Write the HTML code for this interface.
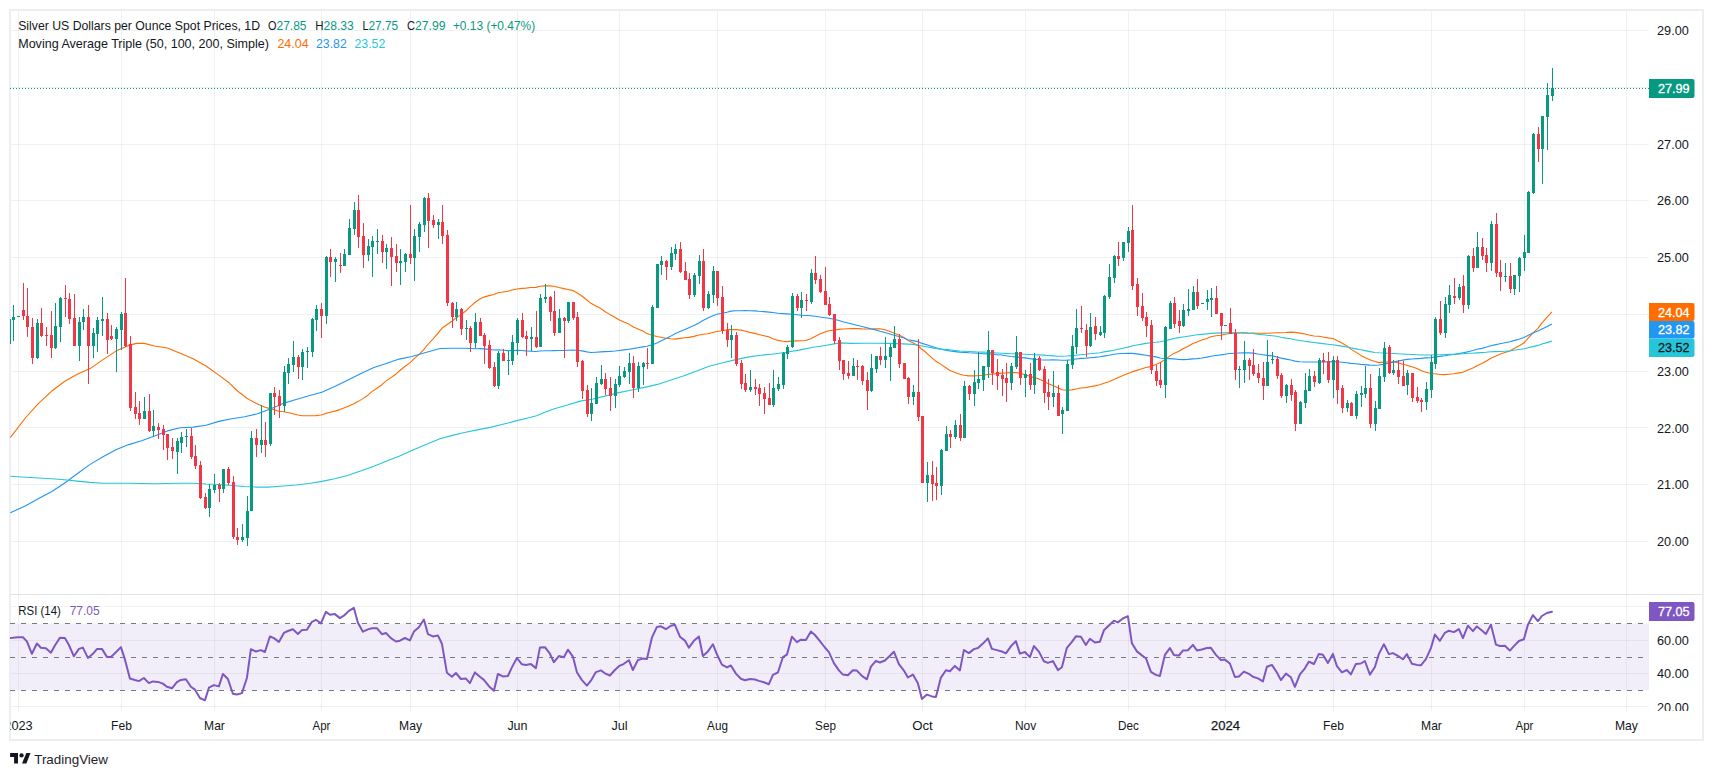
<!DOCTYPE html>
<html><head><meta charset="utf-8"><title>Silver chart</title><style>html,body{margin:0;padding:0;background:#fff}body{width:1713px;height:777px;overflow:hidden}</style></head><body>
<svg width="1713" height="777" viewBox="0 0 1713 777" style="display:block;font-family:'Liberation Sans',sans-serif">
<rect width="1713" height="777" fill="#fff"/>
<rect x="10" y="10" width="1693" height="730" fill="none" stroke="#edeef3" stroke-width="2"/>
<g shape-rendering="crispEdges">
<rect x="18" y="11" width="1" height="700" fill="#2a2e39" fill-opacity="0.065"/>
<rect x="121" y="11" width="1" height="700" fill="#2a2e39" fill-opacity="0.065"/>
<rect x="214" y="11" width="1" height="700" fill="#2a2e39" fill-opacity="0.065"/>
<rect x="321" y="11" width="1" height="700" fill="#2a2e39" fill-opacity="0.065"/>
<rect x="410" y="11" width="1" height="700" fill="#2a2e39" fill-opacity="0.065"/>
<rect x="517" y="11" width="1" height="700" fill="#2a2e39" fill-opacity="0.065"/>
<rect x="619" y="11" width="1" height="700" fill="#2a2e39" fill-opacity="0.065"/>
<rect x="717" y="11" width="1" height="700" fill="#2a2e39" fill-opacity="0.065"/>
<rect x="825" y="11" width="1" height="700" fill="#2a2e39" fill-opacity="0.065"/>
<rect x="922" y="11" width="1" height="700" fill="#2a2e39" fill-opacity="0.065"/>
<rect x="1025" y="11" width="1" height="700" fill="#2a2e39" fill-opacity="0.065"/>
<rect x="1128" y="11" width="1" height="700" fill="#2a2e39" fill-opacity="0.065"/>
<rect x="1225" y="11" width="1" height="700" fill="#2a2e39" fill-opacity="0.065"/>
<rect x="1333" y="11" width="1" height="700" fill="#2a2e39" fill-opacity="0.065"/>
<rect x="1431" y="11" width="1" height="700" fill="#2a2e39" fill-opacity="0.065"/>
<rect x="1524" y="11" width="1" height="700" fill="#2a2e39" fill-opacity="0.065"/>
<rect x="1626" y="11" width="1" height="700" fill="#2a2e39" fill-opacity="0.065"/>
<rect x="11" y="541" width="1638" height="1" fill="#2a2e39" fill-opacity="0.065"/>
<rect x="11" y="484" width="1638" height="1" fill="#2a2e39" fill-opacity="0.065"/>
<rect x="11" y="427" width="1638" height="1" fill="#2a2e39" fill-opacity="0.065"/>
<rect x="11" y="371" width="1638" height="1" fill="#2a2e39" fill-opacity="0.065"/>
<rect x="11" y="314" width="1638" height="1" fill="#2a2e39" fill-opacity="0.065"/>
<rect x="11" y="257" width="1638" height="1" fill="#2a2e39" fill-opacity="0.065"/>
<rect x="11" y="200" width="1638" height="1" fill="#2a2e39" fill-opacity="0.065"/>
<rect x="11" y="144" width="1638" height="1" fill="#2a2e39" fill-opacity="0.065"/>
<rect x="11" y="87" width="1638" height="1" fill="#2a2e39" fill-opacity="0.065"/>
<rect x="11" y="30" width="1638" height="1" fill="#2a2e39" fill-opacity="0.065"/>
<rect x="11" y="706" width="1638" height="1" fill="#2a2e39" fill-opacity="0.065"/>
<rect x="11" y="673" width="1638" height="1" fill="#2a2e39" fill-opacity="0.065"/>
<rect x="11" y="640" width="1638" height="1" fill="#2a2e39" fill-opacity="0.065"/>
<rect x="11" y="606" width="1638" height="1" fill="#2a2e39" fill-opacity="0.065"/>
<rect x="11" y="594" width="1692" height="1" fill="#e0e3eb"/>
</g>
<rect x="11" y="623.6" width="1638" height="66.7" fill="#7e57c2" fill-opacity="0.1"/>
<line x1="10" y1="623.5" x2="1646" y2="623.5" stroke="#787b86" stroke-width="1" stroke-dasharray="5 6" shape-rendering="crispEdges"/>
<line x1="10" y1="657.5" x2="1646" y2="657.5" stroke="#787b86" stroke-width="1" stroke-dasharray="5 6" shape-rendering="crispEdges"/>
<line x1="10" y1="690.5" x2="1646" y2="690.5" stroke="#787b86" stroke-width="1" stroke-dasharray="5 6" shape-rendering="crispEdges"/>
<defs><clipPath id="cm"><rect x="10" y="11" width="1639" height="583"/></clipPath><clipPath id="cr"><rect x="10" y="595" width="1639" height="116"/></clipPath><clipPath id="cr2"><rect x="1649" y="595" width="53" height="116"/></clipPath><clipPath id="ct"><rect x="10.3" y="711" width="1691" height="28"/></clipPath></defs>
<path d="M10.3,437.6 L25.7,417.5 L38.6,403.4 L51.5,391.3 L64.4,381.5 L77.2,374.3 L90.1,368.6 L103.0,359.6 L115.9,351.1 L128.7,345.4 L136.5,343.4 L144.2,343.4 L154.5,346.0 L167.4,348.0 L180.2,353.2 L193.1,358.8 L206.0,366.0 L218.8,375.1 L229.1,382.8 L236.9,390.5 L246.9,398.2 L250.9,400.6 L255.9,403.2 L260.9,405.5 L264.9,407.2 L269.9,408.6 L273.9,409.8 L278.9,411.2 L283.9,411.7 L287.9,412.5 L292.9,413.7 L297.9,415.0 L301.9,415.7 L306.9,415.8 L311.9,415.7 L315.9,415.6 L320.9,415.0 L325.9,413.4 L329.9,412.3 L334.9,411.1 L339.9,409.6 L343.9,407.9 L348.9,405.9 L353.9,403.8 L357.9,401.6 L362.9,398.6 L367.9,395.2 L371.9,391.6 L376.9,388.3 L381.9,384.7 L385.9,381.1 L390.9,377.6 L395.9,374.2 L399.9,370.5 L404.9,366.5 L409.9,362.9 L413.9,358.9 L418.9,354.6 L423.9,349.4 L427.9,344.5 L432.9,339.1 L437.9,333.4 L441.9,328.3 L446.9,324.7 L451.9,321.2 L455.9,318.0 L460.9,314.9 L465.9,310.8 L469.9,306.8 L474.9,302.5 L479.9,299.0 L483.9,297.1 L488.9,295.6 L493.9,294.5 L497.9,292.7 L502.9,292.0 L507.9,291.3 L511.9,290.0 L516.9,289.0 L521.9,288.4 L525.9,288.1 L530.9,287.5 L535.9,287.4 L539.9,286.3 L544.9,285.9 L549.9,285.9 L553.9,286.2 L558.9,287.5 L563.9,288.6 L567.9,289.5 L572.9,290.6 L576.9,292.7 L581.9,296.0 L586.9,300.0 L590.9,303.3 L595.9,305.9 L600.9,308.6 L604.9,311.5 L609.9,314.6 L614.9,317.3 L618.9,319.8 L623.9,322.1 L628.9,324.1 L632.9,326.7 L637.9,328.9 L642.9,331.0 L646.9,333.6 L651.9,335.2 L656.9,336.5 L660.9,337.3 L665.9,338.2 L670.9,338.8 L674.9,339.1 L679.9,338.4 L684.9,337.7 L688.9,337.4 L693.9,336.4 L698.9,335.0 L702.9,334.3 L707.9,333.8 L712.9,332.5 L716.9,331.5 L721.9,330.8 L726.9,329.9 L730.9,329.5 L735.9,329.6 L740.9,330.1 L744.9,331.0 L749.9,332.4 L754.9,333.4 L758.9,334.5 L763.9,335.7 L768.9,336.9 L772.9,338.7 L777.9,340.4 L782.9,341.3 L786.9,341.6 L791.9,341.1 L796.9,340.9 L800.9,340.8 L805.9,340.5 L810.9,338.7 L814.9,336.5 L819.9,334.1 L824.9,332.1 L828.9,330.7 L833.9,330.0 L838.9,329.4 L842.9,329.0 L847.9,328.8 L852.9,328.6 L856.9,328.5 L861.9,328.9 L866.9,329.0 L870.9,329.0 L875.9,328.9 L879.9,328.8 L884.9,329.8 L889.9,331.4 L893.9,333.0 L898.9,334.9 L903.9,337.4 L907.9,340.4 L912.9,342.8 L917.9,345.5 L921.9,349.3 L926.9,353.3 L931.9,357.8 L935.9,361.3 L940.9,364.4 L945.9,367.7 L949.9,370.5 L954.9,372.4 L959.9,374.3 L963.9,375.3 L968.9,375.9 L973.9,375.9 L977.9,375.7 L982.9,375.2 L987.9,374.5 L991.9,374.1 L996.9,373.6 L1001.9,373.1 L1005.9,373.0 L1010.9,372.6 L1015.9,372.6 L1019.9,373.2 L1024.9,374.8 L1029.9,376.3 L1033.9,377.5 L1038.9,378.9 L1043.9,381.2 L1047.9,383.6 L1052.9,385.6 L1057.9,387.8 L1061.9,389.7 L1066.9,390.2 L1071.9,389.9 L1075.9,389.0 L1080.9,388.0 L1085.9,387.6 L1089.9,386.8 L1094.9,385.9 L1099.9,384.7 L1103.9,383.3 L1108.9,381.7 L1113.9,379.6 L1117.9,377.7 L1122.9,375.6 L1127.9,373.4 L1131.9,371.9 L1136.9,370.4 L1141.9,368.8 L1145.9,367.5 L1150.9,366.6 L1155.9,364.5 L1159.9,362.7 L1164.9,359.6 L1169.9,355.9 L1173.9,353.4 L1178.9,351.3 L1182.9,348.7 L1187.9,346.4 L1192.9,343.5 L1196.9,341.9 L1201.9,340.1 L1206.9,338.4 L1210.9,336.8 L1215.9,335.8 L1220.9,335.3 L1224.9,334.3 L1229.9,333.5 L1234.9,333.3 L1238.9,333.0 L1243.9,332.9 L1248.9,333.2 L1252.9,333.1 L1257.9,333.2 L1262.9,333.2 L1266.9,333.2 L1271.9,333.0 L1276.9,332.7 L1280.9,332.7 L1285.9,332.5 L1290.9,332.1 L1294.9,332.4 L1299.9,333.1 L1304.9,334.0 L1308.9,335.0 L1313.9,336.0 L1318.9,336.3 L1322.9,337.0 L1327.9,337.9 L1332.9,338.5 L1336.9,340.4 L1341.9,343.0 L1346.9,345.9 L1350.9,349.1 L1355.9,352.1 L1360.9,355.4 L1364.9,357.4 L1369.9,359.7 L1374.9,361.5 L1378.9,362.6 L1383.9,362.1 L1388.9,362.0 L1392.9,361.7 L1397.9,362.7 L1402.9,364.3 L1406.9,365.3 L1411.9,366.7 L1416.9,368.5 L1420.9,370.4 L1425.9,372.3 L1430.9,373.5 L1434.9,373.8 L1439.9,374.5 L1444.9,374.6 L1448.9,374.2 L1453.9,373.7 L1458.9,372.9 L1462.9,372.3 L1467.9,370.0 L1472.9,368.0 L1476.9,365.8 L1481.9,363.6 L1485.9,361.3 L1490.9,358.3 L1495.9,356.0 L1499.9,354.3 L1504.9,352.6 L1509.9,350.9 L1513.9,348.5 L1518.9,345.9 L1523.9,343.1 L1527.9,338.4 L1532.9,333.1 L1537.9,328.3 L1541.9,323.1 L1546.9,317.3 L1551.9,311.9" fill="none" stroke="#ff6d00" stroke-width="1.1" stroke-linejoin="round" clip-path="url(#cm)"/>
<path d="M10.3,512.8 L25.7,505.8 L38.6,498.6 L51.5,491.7 L64.4,483.2 L77.2,473.7 L90.1,464.4 L103.0,456.7 L115.9,449.7 L128.7,444.6 L141.6,440.7 L154.5,436.1 L167.4,430.9 L180.2,427.8 L193.1,427.1 L206.0,425.3 L218.8,421.4 L231.7,418.8 L244.6,416.8 L257.5,413.7 L270.3,409.0 L283.2,403.4 L296.1,399.5 L309.0,395.7 L321.8,392.3 L334.7,386.6 L347.6,380.2 L360.5,373.8 L373.3,367.8 L386.2,363.5 L399.1,359.1 L411.9,356.5 L424.8,352.7 L440.0,348.5 L451.5,348.3 L464.4,348.3 L477.2,348.8 L479.9,348.6 L483.9,348.9 L488.9,349.4 L493.9,350.0 L497.9,349.9 L502.9,350.3 L507.9,350.6 L511.9,350.6 L516.9,350.3 L521.9,350.5 L525.9,350.9 L530.9,351.2 L535.9,351.5 L539.9,351.0 L544.9,350.8 L549.9,350.7 L553.9,350.6 L558.9,350.5 L563.9,350.5 L567.9,350.3 L572.9,350.1 L576.9,350.3 L581.9,350.9 L586.9,351.9 L590.9,352.5 L595.9,352.2 L600.9,351.9 L604.9,351.6 L609.9,351.4 L614.9,351.0 L618.9,350.5 L623.9,349.9 L628.9,349.2 L632.9,348.6 L637.9,347.7 L642.9,346.9 L646.9,346.2 L651.9,344.9 L656.9,343.0 L660.9,340.9 L665.9,338.6 L670.9,336.1 L674.9,333.7 L679.9,331.5 L684.9,329.5 L688.9,327.7 L693.9,325.6 L698.9,322.9 L702.9,320.6 L707.9,318.1 L712.9,315.7 L716.9,314.3 L721.9,313.2 L726.9,312.2 L730.9,311.1 L735.9,310.8 L740.9,310.7 L744.9,310.5 L749.9,310.7 L754.9,310.9 L758.9,311.3 L763.9,311.6 L768.9,312.1 L772.9,312.5 L777.9,313.2 L782.9,313.6 L786.9,313.9 L791.9,314.3 L796.9,314.8 L800.9,315.2 L805.9,315.5 L810.9,315.7 L814.9,316.2 L819.9,317.0 L824.9,317.7 L828.9,318.3 L833.9,319.3 L838.9,320.5 L842.9,321.8 L847.9,323.0 L852.9,324.2 L856.9,325.3 L861.9,326.5 L866.9,327.8 L870.9,328.9 L875.9,329.9 L879.9,331.2 L884.9,332.5 L889.9,334.0 L893.9,335.2 L898.9,336.5 L903.9,338.1 L907.9,339.7 L912.9,340.6 L917.9,341.6 L921.9,343.4 L926.9,344.8 L931.9,346.4 L935.9,347.8 L940.9,349.1 L945.9,350.1 L949.9,351.0 L954.9,351.6 L959.9,352.1 L963.9,352.4 L968.9,352.8 L973.9,353.0 L977.9,353.3 L982.9,353.8 L987.9,353.9 L991.9,354.3 L996.9,354.7 L1001.9,355.0 L1005.9,355.8 L1010.9,356.5 L1015.9,356.9 L1019.9,357.4 L1024.9,357.9 L1029.9,358.6 L1033.9,359.2 L1038.9,359.7 L1043.9,360.0 L1047.9,360.0 L1052.9,359.8 L1057.9,360.0 L1061.9,360.2 L1066.9,360.1 L1071.9,359.7 L1075.9,359.0 L1080.9,358.4 L1085.9,358.1 L1089.9,357.7 L1094.9,357.4 L1099.9,356.8 L1103.9,356.1 L1108.9,355.3 L1113.9,354.2 L1117.9,353.7 L1122.9,353.5 L1127.9,353.2 L1131.9,353.4 L1136.9,353.9 L1141.9,354.6 L1145.9,355.2 L1150.9,356.1 L1155.9,356.9 L1159.9,358.0 L1164.9,358.7 L1169.9,358.6 L1173.9,358.9 L1178.9,359.5 L1182.9,359.6 L1187.9,359.4 L1192.9,358.9 L1196.9,358.6 L1201.9,358.0 L1206.9,357.1 L1210.9,356.2 L1215.9,355.5 L1220.9,354.9 L1224.9,354.2 L1229.9,353.5 L1234.9,353.2 L1238.9,353.0 L1243.9,352.7 L1248.9,352.9 L1252.9,353.1 L1257.9,354.0 L1262.9,354.7 L1266.9,355.4 L1271.9,355.9 L1276.9,357.0 L1280.9,358.1 L1285.9,359.1 L1290.9,360.0 L1294.9,361.1 L1299.9,361.7 L1304.9,362.0 L1308.9,362.0 L1313.9,362.0 L1318.9,362.0 L1322.9,361.9 L1327.9,361.9 L1332.9,361.6 L1336.9,361.8 L1341.9,362.3 L1346.9,362.8 L1350.9,363.4 L1355.9,363.8 L1360.9,364.4 L1364.9,364.6 L1369.9,365.1 L1374.9,365.2 L1378.9,365.0 L1383.9,364.3 L1388.9,363.2 L1392.9,362.2 L1397.9,361.1 L1402.9,360.1 L1406.9,359.4 L1411.9,359.0 L1416.9,358.6 L1420.9,358.4 L1425.9,357.9 L1430.9,357.7 L1434.9,356.9 L1439.9,356.4 L1444.9,355.7 L1448.9,355.0 L1453.9,354.5 L1458.9,353.6 L1462.9,352.9 L1467.9,351.7 L1472.9,350.5 L1476.9,349.3 L1481.9,348.4 L1485.9,347.2 L1490.9,345.7 L1495.9,344.6 L1499.9,343.8 L1504.9,342.8 L1509.9,341.8 L1513.9,340.6 L1518.9,339.2 L1523.9,337.6 L1527.9,335.4 L1532.9,333.1 L1537.9,331.1 L1541.9,329.0 L1546.9,326.7 L1551.9,324.1" fill="none" stroke="#2196f3" stroke-width="1.1" stroke-linejoin="round" clip-path="url(#cm)"/>
<path d="M10.3,476.2 L25.7,477.3 L38.6,478.0 L51.5,478.8 L64.4,479.8 L77.2,481.1 L90.1,482.4 L103.0,483.2 L115.9,483.2 L128.7,483.2 L141.6,483.5 L154.5,483.7 L167.4,483.5 L180.2,483.2 L193.1,483.2 L206.0,484.0 L218.8,484.5 L231.7,485.5 L244.6,486.5 L257.5,487.1 L267.8,487.1 L283.2,486.0 L296.1,485.0 L309.0,483.5 L321.8,481.4 L334.7,478.8 L347.6,475.5 L360.5,471.1 L373.3,466.5 L386.2,461.3 L399.1,456.2 L411.9,450.5 L424.8,445.1 L440.0,438.7 L451.5,435.6 L464.4,432.5 L477.2,429.9 L490.1,427.4 L503.0,424.3 L515.9,420.9 L528.7,417.8 L536.5,415.8 L544.2,412.4 L554.5,408.8 L567.4,405.0 L580.2,401.1 L593.1,399.0 L606.0,395.9 L618.8,392.6 L631.7,390.0 L644.6,387.4 L657.5,384.4 L670.3,380.2 L683.2,375.9 L696.1,371.2 L709.0,366.3 L721.8,363.0 L734.7,359.9 L747.6,357.1 L760.5,355.3 L773.3,354.0 L786.2,352.2 L799.1,350.1 L811.9,347.5 L824.8,345.5 L840.0,342.9 L851.5,343.4 L864.4,343.2 L877.2,343.2 L890.1,343.4 L903.0,343.9 L913.3,344.4 L923.6,346.3 L933.9,348.1 L944.2,349.6 L945.9,349.3 L949.9,349.9 L954.9,350.5 L959.9,351.0 L963.9,351.2 L968.9,351.5 L973.9,351.8 L977.9,352.0 L982.9,352.1 L987.9,352.2 L991.9,352.6 L996.9,353.0 L1001.9,353.3 L1005.9,353.4 L1010.9,353.7 L1015.9,353.8 L1019.9,354.0 L1024.9,354.2 L1029.9,354.5 L1033.9,354.7 L1038.9,354.9 L1043.9,355.1 L1047.9,355.5 L1052.9,355.9 L1057.9,356.2 L1061.9,356.2 L1066.9,356.0 L1071.9,355.6 L1075.9,355.2 L1080.9,354.7 L1085.9,354.3 L1089.9,353.8 L1094.9,353.3 L1099.9,352.7 L1103.9,351.9 L1108.9,351.1 L1113.9,350.2 L1117.9,349.3 L1122.9,348.2 L1127.9,347.1 L1131.9,346.0 L1136.9,345.0 L1141.9,344.1 L1145.9,343.4 L1150.9,342.8 L1155.9,342.3 L1159.9,341.8 L1164.9,340.8 L1169.9,339.6 L1173.9,338.5 L1178.9,337.6 L1182.9,337.0 L1187.9,336.3 L1192.9,335.5 L1196.9,334.8 L1201.9,334.4 L1206.9,333.9 L1210.9,333.4 L1215.9,333.1 L1220.9,332.9 L1224.9,332.7 L1229.9,332.6 L1234.9,332.7 L1238.9,332.7 L1243.9,332.9 L1248.9,333.2 L1252.9,333.5 L1257.9,334.1 L1262.9,334.7 L1266.9,335.3 L1271.9,335.7 L1276.9,336.3 L1280.9,337.2 L1285.9,338.1 L1290.9,338.8 L1294.9,339.7 L1299.9,340.5 L1304.9,341.2 L1308.9,341.9 L1313.9,342.5 L1318.9,343.1 L1322.9,343.6 L1327.9,344.2 L1332.9,344.7 L1336.9,345.4 L1341.9,346.1 L1346.9,347.0 L1350.9,347.9 L1355.9,348.9 L1360.9,349.8 L1364.9,350.6 L1369.9,351.6 L1374.9,352.5 L1378.9,352.8 L1383.9,353.0 L1388.9,353.3 L1392.9,353.5 L1397.9,353.8 L1402.9,354.0 L1406.9,354.2 L1411.9,354.5 L1416.9,354.8 L1420.9,355.0 L1425.9,355.0 L1430.9,355.0 L1434.9,354.8 L1439.9,354.7 L1444.9,354.5 L1448.9,354.4 L1453.9,354.2 L1458.9,353.9 L1462.9,353.8 L1467.9,353.3 L1472.9,353.2 L1476.9,352.9 L1481.9,352.6 L1485.9,352.3 L1490.9,351.8 L1495.9,351.6 L1499.9,351.5 L1504.9,351.3 L1509.9,350.9 L1513.9,350.3 L1518.9,349.5 L1523.9,348.8 L1527.9,347.8 L1532.9,346.6 L1537.9,345.4 L1541.9,344.0 L1546.9,342.6 L1551.9,341.1" fill="none" stroke="#26c6da" stroke-width="1.1" stroke-linejoin="round" clip-path="url(#cm)"/>
<g shape-rendering="crispEdges" clip-path="url(#cm)">
<rect x="10" y="319" width="1" height="25" fill="#089981"/>
<rect x="13" y="305" width="1" height="36" fill="#089981"/>
<rect x="12" y="317" width="3" height="3" fill="#089981"/>
<rect x="18" y="316" width="1" height="1" fill="#089981"/>
<rect x="17" y="316" width="3" height="1" fill="#089981"/>
<rect x="23" y="283" width="1" height="37" fill="#f23645"/>
<rect x="22" y="310" width="3" height="6" fill="#f23645"/>
<rect x="27" y="288" width="1" height="49" fill="#f23645"/>
<rect x="26" y="316" width="3" height="11" fill="#f23645"/>
<rect x="32" y="318" width="1" height="46" fill="#f23645"/>
<rect x="31" y="327" width="3" height="31" fill="#f23645"/>
<rect x="37" y="319" width="1" height="40" fill="#089981"/>
<rect x="36" y="323" width="3" height="35" fill="#089981"/>
<rect x="41" y="308" width="1" height="29" fill="#f23645"/>
<rect x="40" y="323" width="3" height="13" fill="#f23645"/>
<rect x="46" y="327" width="1" height="19" fill="#f23645"/>
<rect x="45" y="335" width="3" height="1" fill="#f23645"/>
<rect x="51" y="311" width="1" height="47" fill="#f23645"/>
<rect x="50" y="335" width="3" height="13" fill="#f23645"/>
<rect x="55" y="303" width="1" height="46" fill="#089981"/>
<rect x="54" y="326" width="3" height="22" fill="#089981"/>
<rect x="60" y="297" width="1" height="45" fill="#089981"/>
<rect x="59" y="298" width="3" height="29" fill="#089981"/>
<rect x="65" y="285" width="1" height="32" fill="#f23645"/>
<rect x="64" y="298" width="3" height="1" fill="#f23645"/>
<rect x="69" y="293" width="1" height="31" fill="#f23645"/>
<rect x="68" y="299" width="3" height="20" fill="#f23645"/>
<rect x="74" y="294" width="1" height="52" fill="#f23645"/>
<rect x="73" y="318" width="3" height="28" fill="#f23645"/>
<rect x="79" y="317" width="1" height="44" fill="#089981"/>
<rect x="78" y="322" width="3" height="24" fill="#089981"/>
<rect x="83" y="309" width="1" height="21" fill="#089981"/>
<rect x="82" y="317" width="3" height="5" fill="#089981"/>
<rect x="88" y="305" width="1" height="79" fill="#f23645"/>
<rect x="87" y="317" width="3" height="29" fill="#f23645"/>
<rect x="93" y="328" width="1" height="30" fill="#089981"/>
<rect x="92" y="333" width="3" height="13" fill="#089981"/>
<rect x="97" y="317" width="1" height="35" fill="#089981"/>
<rect x="96" y="320" width="3" height="14" fill="#089981"/>
<rect x="102" y="297" width="1" height="39" fill="#089981"/>
<rect x="101" y="319" width="3" height="2" fill="#089981"/>
<rect x="107" y="313" width="1" height="41" fill="#f23645"/>
<rect x="106" y="319" width="3" height="21" fill="#f23645"/>
<rect x="111" y="325" width="1" height="15" fill="#f23645"/>
<rect x="110" y="336" width="3" height="3" fill="#f23645"/>
<rect x="116" y="327" width="1" height="45" fill="#089981"/>
<rect x="115" y="329" width="3" height="10" fill="#089981"/>
<rect x="121" y="312" width="1" height="38" fill="#089981"/>
<rect x="120" y="314" width="3" height="16" fill="#089981"/>
<rect x="125" y="278" width="1" height="69" fill="#f23645"/>
<rect x="124" y="313" width="3" height="33" fill="#f23645"/>
<rect x="130" y="336" width="1" height="75" fill="#f23645"/>
<rect x="129" y="344" width="3" height="64" fill="#f23645"/>
<rect x="135" y="392" width="1" height="27" fill="#f23645"/>
<rect x="134" y="407" width="3" height="7" fill="#f23645"/>
<rect x="139" y="401" width="1" height="24" fill="#f23645"/>
<rect x="138" y="413" width="3" height="6" fill="#f23645"/>
<rect x="144" y="397" width="1" height="22" fill="#089981"/>
<rect x="143" y="411" width="3" height="8" fill="#089981"/>
<rect x="149" y="394" width="1" height="38" fill="#f23645"/>
<rect x="148" y="411" width="3" height="20" fill="#f23645"/>
<rect x="153" y="410" width="1" height="27" fill="#089981"/>
<rect x="152" y="426" width="3" height="5" fill="#089981"/>
<rect x="158" y="423" width="1" height="16" fill="#f23645"/>
<rect x="157" y="427" width="3" height="3" fill="#f23645"/>
<rect x="163" y="425" width="1" height="25" fill="#f23645"/>
<rect x="162" y="429" width="3" height="6" fill="#f23645"/>
<rect x="167" y="434" width="1" height="26" fill="#f23645"/>
<rect x="166" y="434" width="3" height="14" fill="#f23645"/>
<rect x="172" y="438" width="1" height="21" fill="#f23645"/>
<rect x="171" y="447" width="3" height="4" fill="#f23645"/>
<rect x="177" y="438" width="1" height="36" fill="#089981"/>
<rect x="176" y="441" width="3" height="11" fill="#089981"/>
<rect x="181" y="432" width="1" height="21" fill="#089981"/>
<rect x="180" y="437" width="3" height="6" fill="#089981"/>
<rect x="186" y="429" width="1" height="18" fill="#089981"/>
<rect x="185" y="436" width="3" height="1" fill="#089981"/>
<rect x="191" y="428" width="1" height="31" fill="#f23645"/>
<rect x="190" y="436" width="3" height="21" fill="#f23645"/>
<rect x="195" y="445" width="1" height="24" fill="#f23645"/>
<rect x="194" y="456" width="3" height="10" fill="#f23645"/>
<rect x="200" y="461" width="1" height="38" fill="#f23645"/>
<rect x="199" y="465" width="3" height="33" fill="#f23645"/>
<rect x="205" y="493" width="1" height="16" fill="#f23645"/>
<rect x="204" y="497" width="3" height="11" fill="#f23645"/>
<rect x="209" y="484" width="1" height="33" fill="#089981"/>
<rect x="208" y="489" width="3" height="19" fill="#089981"/>
<rect x="214" y="474" width="1" height="19" fill="#089981"/>
<rect x="213" y="485" width="3" height="5" fill="#089981"/>
<rect x="219" y="483" width="1" height="19" fill="#f23645"/>
<rect x="218" y="485" width="3" height="4" fill="#f23645"/>
<rect x="223" y="469" width="1" height="24" fill="#089981"/>
<rect x="222" y="469" width="3" height="20" fill="#089981"/>
<rect x="228" y="467" width="1" height="18" fill="#f23645"/>
<rect x="227" y="469" width="3" height="14" fill="#f23645"/>
<rect x="233" y="476" width="1" height="63" fill="#f23645"/>
<rect x="232" y="482" width="3" height="55" fill="#f23645"/>
<rect x="237" y="528" width="1" height="17" fill="#f23645"/>
<rect x="236" y="537" width="3" height="3" fill="#f23645"/>
<rect x="242" y="524" width="1" height="18" fill="#089981"/>
<rect x="241" y="537" width="3" height="3" fill="#089981"/>
<rect x="247" y="496" width="1" height="50" fill="#089981"/>
<rect x="246" y="511" width="3" height="27" fill="#089981"/>
<rect x="251" y="431" width="1" height="80" fill="#089981"/>
<rect x="250" y="438" width="3" height="73" fill="#089981"/>
<rect x="256" y="429" width="1" height="28" fill="#f23645"/>
<rect x="255" y="438" width="3" height="7" fill="#f23645"/>
<rect x="261" y="405" width="1" height="48" fill="#089981"/>
<rect x="260" y="440" width="3" height="5" fill="#089981"/>
<rect x="265" y="422" width="1" height="35" fill="#f23645"/>
<rect x="264" y="440" width="3" height="5" fill="#f23645"/>
<rect x="270" y="393" width="1" height="53" fill="#089981"/>
<rect x="269" y="393" width="3" height="51" fill="#089981"/>
<rect x="274" y="387" width="1" height="28" fill="#f23645"/>
<rect x="273" y="393" width="3" height="4" fill="#f23645"/>
<rect x="279" y="390" width="1" height="28" fill="#f23645"/>
<rect x="278" y="396" width="3" height="10" fill="#f23645"/>
<rect x="284" y="366" width="1" height="46" fill="#089981"/>
<rect x="283" y="372" width="3" height="34" fill="#089981"/>
<rect x="288" y="358" width="1" height="26" fill="#089981"/>
<rect x="287" y="364" width="3" height="9" fill="#089981"/>
<rect x="293" y="341" width="1" height="31" fill="#089981"/>
<rect x="292" y="357" width="3" height="8" fill="#089981"/>
<rect x="298" y="355" width="1" height="24" fill="#f23645"/>
<rect x="297" y="357" width="3" height="10" fill="#f23645"/>
<rect x="302" y="349" width="1" height="31" fill="#089981"/>
<rect x="301" y="352" width="3" height="15" fill="#089981"/>
<rect x="307" y="347" width="1" height="21" fill="#089981"/>
<rect x="306" y="351" width="3" height="1" fill="#089981"/>
<rect x="312" y="318" width="1" height="39" fill="#089981"/>
<rect x="311" y="319" width="3" height="33" fill="#089981"/>
<rect x="316" y="305" width="1" height="26" fill="#089981"/>
<rect x="315" y="309" width="3" height="11" fill="#089981"/>
<rect x="321" y="303" width="1" height="35" fill="#f23645"/>
<rect x="320" y="309" width="3" height="7" fill="#f23645"/>
<rect x="326" y="256" width="1" height="68" fill="#089981"/>
<rect x="325" y="257" width="3" height="59" fill="#089981"/>
<rect x="330" y="249" width="1" height="28" fill="#f23645"/>
<rect x="329" y="257" width="3" height="5" fill="#f23645"/>
<rect x="335" y="257" width="1" height="25" fill="#089981"/>
<rect x="334" y="259" width="3" height="3" fill="#089981"/>
<rect x="340" y="253" width="1" height="20" fill="#f23645"/>
<rect x="339" y="265" width="3" height="1" fill="#f23645"/>
<rect x="344" y="249" width="1" height="17" fill="#089981"/>
<rect x="343" y="254" width="3" height="12" fill="#089981"/>
<rect x="349" y="219" width="1" height="36" fill="#089981"/>
<rect x="348" y="228" width="3" height="27" fill="#089981"/>
<rect x="354" y="202" width="1" height="33" fill="#089981"/>
<rect x="353" y="210" width="3" height="19" fill="#089981"/>
<rect x="358" y="195" width="1" height="53" fill="#f23645"/>
<rect x="357" y="210" width="3" height="27" fill="#f23645"/>
<rect x="363" y="223" width="1" height="45" fill="#f23645"/>
<rect x="362" y="236" width="3" height="19" fill="#f23645"/>
<rect x="368" y="239" width="1" height="22" fill="#089981"/>
<rect x="367" y="246" width="3" height="9" fill="#089981"/>
<rect x="372" y="236" width="1" height="41" fill="#089981"/>
<rect x="371" y="241" width="3" height="6" fill="#089981"/>
<rect x="377" y="229" width="1" height="25" fill="#089981"/>
<rect x="376" y="241" width="3" height="1" fill="#089981"/>
<rect x="382" y="235" width="1" height="28" fill="#f23645"/>
<rect x="381" y="241" width="3" height="11" fill="#f23645"/>
<rect x="386" y="244" width="1" height="25" fill="#089981"/>
<rect x="385" y="248" width="3" height="4" fill="#089981"/>
<rect x="391" y="237" width="1" height="49" fill="#f23645"/>
<rect x="390" y="248" width="3" height="9" fill="#f23645"/>
<rect x="396" y="244" width="1" height="28" fill="#f23645"/>
<rect x="395" y="256" width="3" height="7" fill="#f23645"/>
<rect x="400" y="249" width="1" height="36" fill="#089981"/>
<rect x="399" y="261" width="3" height="2" fill="#089981"/>
<rect x="405" y="253" width="1" height="19" fill="#089981"/>
<rect x="404" y="254" width="3" height="8" fill="#089981"/>
<rect x="410" y="205" width="1" height="59" fill="#f23645"/>
<rect x="409" y="254" width="3" height="4" fill="#f23645"/>
<rect x="414" y="229" width="1" height="52" fill="#089981"/>
<rect x="413" y="236" width="3" height="22" fill="#089981"/>
<rect x="419" y="222" width="1" height="30" fill="#089981"/>
<rect x="418" y="224" width="3" height="13" fill="#089981"/>
<rect x="424" y="197" width="1" height="35" fill="#089981"/>
<rect x="423" y="198" width="3" height="27" fill="#089981"/>
<rect x="428" y="193" width="1" height="55" fill="#f23645"/>
<rect x="427" y="198" width="3" height="23" fill="#f23645"/>
<rect x="433" y="215" width="1" height="13" fill="#f23645"/>
<rect x="432" y="220" width="3" height="5" fill="#f23645"/>
<rect x="438" y="219" width="1" height="20" fill="#089981"/>
<rect x="437" y="222" width="3" height="3" fill="#089981"/>
<rect x="442" y="205" width="1" height="39" fill="#f23645"/>
<rect x="441" y="222" width="3" height="14" fill="#f23645"/>
<rect x="447" y="230" width="1" height="76" fill="#f23645"/>
<rect x="446" y="235" width="3" height="68" fill="#f23645"/>
<rect x="452" y="302" width="1" height="26" fill="#f23645"/>
<rect x="451" y="303" width="3" height="14" fill="#f23645"/>
<rect x="456" y="302" width="1" height="19" fill="#089981"/>
<rect x="455" y="309" width="3" height="8" fill="#089981"/>
<rect x="461" y="308" width="1" height="27" fill="#f23645"/>
<rect x="460" y="309" width="3" height="20" fill="#f23645"/>
<rect x="466" y="320" width="1" height="20" fill="#089981"/>
<rect x="465" y="328" width="3" height="1" fill="#089981"/>
<rect x="470" y="326" width="1" height="26" fill="#f23645"/>
<rect x="469" y="328" width="3" height="15" fill="#f23645"/>
<rect x="475" y="313" width="1" height="35" fill="#089981"/>
<rect x="474" y="322" width="3" height="21" fill="#089981"/>
<rect x="480" y="318" width="1" height="18" fill="#f23645"/>
<rect x="479" y="322" width="3" height="14" fill="#f23645"/>
<rect x="484" y="333" width="1" height="31" fill="#f23645"/>
<rect x="483" y="335" width="3" height="11" fill="#f23645"/>
<rect x="489" y="340" width="1" height="29" fill="#f23645"/>
<rect x="488" y="345" width="3" height="23" fill="#f23645"/>
<rect x="494" y="362" width="1" height="25" fill="#f23645"/>
<rect x="493" y="367" width="3" height="19" fill="#f23645"/>
<rect x="498" y="351" width="1" height="38" fill="#089981"/>
<rect x="497" y="353" width="3" height="33" fill="#089981"/>
<rect x="503" y="349" width="1" height="12" fill="#f23645"/>
<rect x="502" y="353" width="3" height="8" fill="#f23645"/>
<rect x="508" y="351" width="1" height="24" fill="#089981"/>
<rect x="507" y="360" width="3" height="1" fill="#089981"/>
<rect x="512" y="335" width="1" height="30" fill="#089981"/>
<rect x="511" y="342" width="3" height="19" fill="#089981"/>
<rect x="517" y="318" width="1" height="37" fill="#089981"/>
<rect x="516" y="320" width="3" height="23" fill="#089981"/>
<rect x="522" y="313" width="1" height="25" fill="#f23645"/>
<rect x="521" y="320" width="3" height="17" fill="#f23645"/>
<rect x="526" y="331" width="1" height="25" fill="#f23645"/>
<rect x="525" y="336" width="3" height="3" fill="#f23645"/>
<rect x="531" y="327" width="1" height="24" fill="#089981"/>
<rect x="530" y="337" width="3" height="2" fill="#089981"/>
<rect x="536" y="311" width="1" height="37" fill="#f23645"/>
<rect x="535" y="337" width="3" height="10" fill="#f23645"/>
<rect x="540" y="294" width="1" height="53" fill="#089981"/>
<rect x="539" y="298" width="3" height="49" fill="#089981"/>
<rect x="545" y="284" width="1" height="19" fill="#089981"/>
<rect x="544" y="297" width="3" height="2" fill="#089981"/>
<rect x="550" y="296" width="1" height="25" fill="#f23645"/>
<rect x="549" y="297" width="3" height="15" fill="#f23645"/>
<rect x="554" y="291" width="1" height="45" fill="#f23645"/>
<rect x="553" y="311" width="3" height="22" fill="#f23645"/>
<rect x="559" y="309" width="1" height="24" fill="#089981"/>
<rect x="558" y="318" width="3" height="15" fill="#089981"/>
<rect x="564" y="317" width="1" height="41" fill="#f23645"/>
<rect x="563" y="318" width="3" height="3" fill="#f23645"/>
<rect x="568" y="302" width="1" height="21" fill="#089981"/>
<rect x="567" y="302" width="3" height="19" fill="#089981"/>
<rect x="573" y="302" width="1" height="18" fill="#f23645"/>
<rect x="572" y="302" width="3" height="16" fill="#f23645"/>
<rect x="577" y="312" width="1" height="55" fill="#f23645"/>
<rect x="576" y="317" width="3" height="45" fill="#f23645"/>
<rect x="582" y="360" width="1" height="39" fill="#f23645"/>
<rect x="581" y="361" width="3" height="30" fill="#f23645"/>
<rect x="587" y="385" width="1" height="32" fill="#f23645"/>
<rect x="586" y="390" width="3" height="24" fill="#f23645"/>
<rect x="591" y="388" width="1" height="33" fill="#089981"/>
<rect x="590" y="403" width="3" height="11" fill="#089981"/>
<rect x="596" y="377" width="1" height="27" fill="#089981"/>
<rect x="595" y="383" width="3" height="21" fill="#089981"/>
<rect x="601" y="365" width="1" height="20" fill="#089981"/>
<rect x="600" y="379" width="3" height="5" fill="#089981"/>
<rect x="605" y="373" width="1" height="22" fill="#f23645"/>
<rect x="604" y="379" width="3" height="10" fill="#f23645"/>
<rect x="610" y="377" width="1" height="34" fill="#f23645"/>
<rect x="609" y="388" width="3" height="8" fill="#f23645"/>
<rect x="615" y="379" width="1" height="29" fill="#089981"/>
<rect x="614" y="384" width="3" height="12" fill="#089981"/>
<rect x="619" y="366" width="1" height="21" fill="#089981"/>
<rect x="618" y="376" width="3" height="9" fill="#089981"/>
<rect x="624" y="367" width="1" height="11" fill="#089981"/>
<rect x="623" y="371" width="3" height="6" fill="#089981"/>
<rect x="629" y="353" width="1" height="31" fill="#089981"/>
<rect x="628" y="363" width="3" height="9" fill="#089981"/>
<rect x="633" y="356" width="1" height="42" fill="#f23645"/>
<rect x="632" y="363" width="3" height="25" fill="#f23645"/>
<rect x="638" y="362" width="1" height="30" fill="#089981"/>
<rect x="637" y="366" width="3" height="22" fill="#089981"/>
<rect x="643" y="362" width="1" height="23" fill="#089981"/>
<rect x="642" y="363" width="3" height="4" fill="#089981"/>
<rect x="647" y="348" width="1" height="21" fill="#f23645"/>
<rect x="646" y="363" width="3" height="1" fill="#f23645"/>
<rect x="652" y="305" width="1" height="59" fill="#089981"/>
<rect x="651" y="307" width="3" height="57" fill="#089981"/>
<rect x="657" y="264" width="1" height="44" fill="#089981"/>
<rect x="656" y="264" width="3" height="44" fill="#089981"/>
<rect x="661" y="256" width="1" height="19" fill="#089981"/>
<rect x="660" y="261" width="3" height="4" fill="#089981"/>
<rect x="666" y="260" width="1" height="20" fill="#f23645"/>
<rect x="665" y="261" width="3" height="6" fill="#f23645"/>
<rect x="671" y="247" width="1" height="23" fill="#089981"/>
<rect x="670" y="253" width="3" height="14" fill="#089981"/>
<rect x="675" y="244" width="1" height="16" fill="#089981"/>
<rect x="674" y="249" width="3" height="5" fill="#089981"/>
<rect x="680" y="242" width="1" height="31" fill="#f23645"/>
<rect x="679" y="249" width="3" height="23" fill="#f23645"/>
<rect x="685" y="262" width="1" height="18" fill="#f23645"/>
<rect x="684" y="271" width="3" height="9" fill="#f23645"/>
<rect x="689" y="273" width="1" height="26" fill="#f23645"/>
<rect x="688" y="279" width="3" height="16" fill="#f23645"/>
<rect x="694" y="273" width="1" height="24" fill="#089981"/>
<rect x="693" y="275" width="3" height="20" fill="#089981"/>
<rect x="699" y="255" width="1" height="29" fill="#089981"/>
<rect x="698" y="261" width="3" height="15" fill="#089981"/>
<rect x="703" y="249" width="1" height="62" fill="#f23645"/>
<rect x="702" y="261" width="3" height="47" fill="#f23645"/>
<rect x="708" y="291" width="1" height="18" fill="#089981"/>
<rect x="707" y="294" width="3" height="14" fill="#089981"/>
<rect x="713" y="266" width="1" height="37" fill="#089981"/>
<rect x="712" y="271" width="3" height="24" fill="#089981"/>
<rect x="717" y="271" width="1" height="35" fill="#f23645"/>
<rect x="716" y="271" width="3" height="27" fill="#f23645"/>
<rect x="722" y="286" width="1" height="48" fill="#f23645"/>
<rect x="721" y="297" width="3" height="34" fill="#f23645"/>
<rect x="727" y="323" width="1" height="24" fill="#f23645"/>
<rect x="726" y="330" width="3" height="10" fill="#f23645"/>
<rect x="731" y="325" width="1" height="33" fill="#089981"/>
<rect x="730" y="335" width="3" height="5" fill="#089981"/>
<rect x="736" y="332" width="1" height="34" fill="#f23645"/>
<rect x="735" y="335" width="3" height="29" fill="#f23645"/>
<rect x="741" y="360" width="1" height="29" fill="#f23645"/>
<rect x="740" y="363" width="3" height="21" fill="#f23645"/>
<rect x="745" y="374" width="1" height="18" fill="#f23645"/>
<rect x="744" y="383" width="3" height="7" fill="#f23645"/>
<rect x="750" y="370" width="1" height="22" fill="#089981"/>
<rect x="749" y="387" width="3" height="3" fill="#089981"/>
<rect x="755" y="379" width="1" height="16" fill="#f23645"/>
<rect x="754" y="387" width="3" height="2" fill="#f23645"/>
<rect x="759" y="384" width="1" height="22" fill="#f23645"/>
<rect x="758" y="388" width="3" height="6" fill="#f23645"/>
<rect x="764" y="387" width="1" height="27" fill="#f23645"/>
<rect x="763" y="393" width="3" height="6" fill="#f23645"/>
<rect x="769" y="383" width="1" height="22" fill="#f23645"/>
<rect x="768" y="398" width="3" height="7" fill="#f23645"/>
<rect x="773" y="370" width="1" height="37" fill="#089981"/>
<rect x="772" y="388" width="3" height="17" fill="#089981"/>
<rect x="778" y="377" width="1" height="14" fill="#089981"/>
<rect x="777" y="384" width="3" height="5" fill="#089981"/>
<rect x="783" y="352" width="1" height="37" fill="#089981"/>
<rect x="782" y="353" width="3" height="32" fill="#089981"/>
<rect x="787" y="345" width="1" height="14" fill="#089981"/>
<rect x="786" y="347" width="3" height="7" fill="#089981"/>
<rect x="792" y="293" width="1" height="55" fill="#089981"/>
<rect x="791" y="296" width="3" height="51" fill="#089981"/>
<rect x="797" y="294" width="1" height="17" fill="#f23645"/>
<rect x="796" y="296" width="3" height="12" fill="#f23645"/>
<rect x="801" y="292" width="1" height="26" fill="#089981"/>
<rect x="800" y="300" width="3" height="8" fill="#089981"/>
<rect x="806" y="294" width="1" height="17" fill="#f23645"/>
<rect x="805" y="300" width="3" height="1" fill="#f23645"/>
<rect x="811" y="269" width="1" height="35" fill="#089981"/>
<rect x="810" y="273" width="3" height="29" fill="#089981"/>
<rect x="815" y="256" width="1" height="28" fill="#f23645"/>
<rect x="814" y="273" width="3" height="7" fill="#f23645"/>
<rect x="820" y="275" width="1" height="18" fill="#f23645"/>
<rect x="819" y="279" width="3" height="13" fill="#f23645"/>
<rect x="825" y="267" width="1" height="38" fill="#f23645"/>
<rect x="824" y="291" width="3" height="14" fill="#f23645"/>
<rect x="829" y="297" width="1" height="19" fill="#f23645"/>
<rect x="828" y="304" width="3" height="11" fill="#f23645"/>
<rect x="834" y="314" width="1" height="30" fill="#f23645"/>
<rect x="833" y="314" width="3" height="27" fill="#f23645"/>
<rect x="839" y="337" width="1" height="33" fill="#f23645"/>
<rect x="838" y="340" width="3" height="21" fill="#f23645"/>
<rect x="843" y="360" width="1" height="20" fill="#f23645"/>
<rect x="842" y="360" width="3" height="14" fill="#f23645"/>
<rect x="848" y="361" width="1" height="18" fill="#f23645"/>
<rect x="847" y="373" width="3" height="3" fill="#f23645"/>
<rect x="853" y="358" width="1" height="18" fill="#089981"/>
<rect x="852" y="366" width="3" height="10" fill="#089981"/>
<rect x="857" y="360" width="1" height="20" fill="#f23645"/>
<rect x="856" y="366" width="3" height="1" fill="#f23645"/>
<rect x="862" y="365" width="1" height="20" fill="#f23645"/>
<rect x="861" y="366" width="3" height="15" fill="#f23645"/>
<rect x="867" y="372" width="1" height="38" fill="#f23645"/>
<rect x="866" y="380" width="3" height="11" fill="#f23645"/>
<rect x="871" y="354" width="1" height="38" fill="#089981"/>
<rect x="870" y="368" width="3" height="23" fill="#089981"/>
<rect x="876" y="356" width="1" height="17" fill="#089981"/>
<rect x="875" y="356" width="3" height="13" fill="#089981"/>
<rect x="880" y="347" width="1" height="18" fill="#f23645"/>
<rect x="879" y="356" width="3" height="4" fill="#f23645"/>
<rect x="885" y="337" width="1" height="31" fill="#089981"/>
<rect x="884" y="356" width="3" height="4" fill="#089981"/>
<rect x="890" y="344" width="1" height="37" fill="#089981"/>
<rect x="889" y="347" width="3" height="10" fill="#089981"/>
<rect x="894" y="326" width="1" height="22" fill="#089981"/>
<rect x="893" y="339" width="3" height="9" fill="#089981"/>
<rect x="899" y="334" width="1" height="34" fill="#f23645"/>
<rect x="898" y="339" width="3" height="25" fill="#f23645"/>
<rect x="904" y="363" width="1" height="16" fill="#f23645"/>
<rect x="903" y="363" width="3" height="16" fill="#f23645"/>
<rect x="908" y="377" width="1" height="27" fill="#f23645"/>
<rect x="907" y="378" width="3" height="19" fill="#f23645"/>
<rect x="913" y="385" width="1" height="20" fill="#089981"/>
<rect x="912" y="392" width="3" height="5" fill="#089981"/>
<rect x="918" y="339" width="1" height="82" fill="#f23645"/>
<rect x="917" y="392" width="3" height="25" fill="#f23645"/>
<rect x="922" y="416" width="1" height="67" fill="#f23645"/>
<rect x="921" y="416" width="3" height="67" fill="#f23645"/>
<rect x="927" y="462" width="1" height="40" fill="#089981"/>
<rect x="926" y="475" width="3" height="8" fill="#089981"/>
<rect x="932" y="461" width="1" height="40" fill="#f23645"/>
<rect x="931" y="475" width="3" height="9" fill="#f23645"/>
<rect x="936" y="467" width="1" height="33" fill="#f23645"/>
<rect x="935" y="483" width="3" height="3" fill="#f23645"/>
<rect x="941" y="449" width="1" height="46" fill="#089981"/>
<rect x="940" y="450" width="3" height="36" fill="#089981"/>
<rect x="946" y="426" width="1" height="25" fill="#089981"/>
<rect x="945" y="434" width="3" height="17" fill="#089981"/>
<rect x="950" y="430" width="1" height="18" fill="#f23645"/>
<rect x="949" y="434" width="3" height="3" fill="#f23645"/>
<rect x="955" y="420" width="1" height="19" fill="#089981"/>
<rect x="954" y="425" width="3" height="12" fill="#089981"/>
<rect x="960" y="414" width="1" height="27" fill="#f23645"/>
<rect x="959" y="425" width="3" height="13" fill="#f23645"/>
<rect x="964" y="381" width="1" height="57" fill="#089981"/>
<rect x="963" y="386" width="3" height="52" fill="#089981"/>
<rect x="969" y="385" width="1" height="15" fill="#f23645"/>
<rect x="968" y="386" width="3" height="8" fill="#f23645"/>
<rect x="974" y="370" width="1" height="36" fill="#089981"/>
<rect x="973" y="382" width="3" height="12" fill="#089981"/>
<rect x="978" y="352" width="1" height="37" fill="#089981"/>
<rect x="977" y="379" width="3" height="4" fill="#089981"/>
<rect x="983" y="366" width="1" height="25" fill="#089981"/>
<rect x="982" y="366" width="3" height="14" fill="#089981"/>
<rect x="988" y="331" width="1" height="47" fill="#089981"/>
<rect x="987" y="350" width="3" height="17" fill="#089981"/>
<rect x="992" y="350" width="1" height="35" fill="#f23645"/>
<rect x="991" y="350" width="3" height="23" fill="#f23645"/>
<rect x="997" y="359" width="1" height="31" fill="#f23645"/>
<rect x="996" y="372" width="3" height="4" fill="#f23645"/>
<rect x="1002" y="369" width="1" height="27" fill="#f23645"/>
<rect x="1001" y="375" width="3" height="4" fill="#f23645"/>
<rect x="1006" y="363" width="1" height="39" fill="#f23645"/>
<rect x="1005" y="378" width="3" height="5" fill="#f23645"/>
<rect x="1011" y="363" width="1" height="27" fill="#089981"/>
<rect x="1010" y="366" width="3" height="17" fill="#089981"/>
<rect x="1016" y="336" width="1" height="33" fill="#089981"/>
<rect x="1015" y="352" width="3" height="15" fill="#089981"/>
<rect x="1020" y="352" width="1" height="33" fill="#f23645"/>
<rect x="1019" y="352" width="3" height="26" fill="#f23645"/>
<rect x="1025" y="370" width="1" height="27" fill="#089981"/>
<rect x="1024" y="374" width="3" height="4" fill="#089981"/>
<rect x="1030" y="363" width="1" height="27" fill="#f23645"/>
<rect x="1029" y="374" width="3" height="11" fill="#f23645"/>
<rect x="1034" y="353" width="1" height="41" fill="#089981"/>
<rect x="1033" y="358" width="3" height="27" fill="#089981"/>
<rect x="1039" y="356" width="1" height="15" fill="#f23645"/>
<rect x="1038" y="358" width="3" height="12" fill="#f23645"/>
<rect x="1044" y="366" width="1" height="37" fill="#f23645"/>
<rect x="1043" y="369" width="3" height="24" fill="#f23645"/>
<rect x="1048" y="379" width="1" height="31" fill="#f23645"/>
<rect x="1047" y="392" width="3" height="5" fill="#f23645"/>
<rect x="1053" y="371" width="1" height="36" fill="#089981"/>
<rect x="1052" y="393" width="3" height="4" fill="#089981"/>
<rect x="1058" y="385" width="1" height="31" fill="#f23645"/>
<rect x="1057" y="393" width="3" height="23" fill="#f23645"/>
<rect x="1062" y="407" width="1" height="27" fill="#089981"/>
<rect x="1061" y="410" width="3" height="4" fill="#089981"/>
<rect x="1067" y="360" width="1" height="51" fill="#089981"/>
<rect x="1066" y="364" width="3" height="47" fill="#089981"/>
<rect x="1072" y="335" width="1" height="34" fill="#089981"/>
<rect x="1071" y="346" width="3" height="19" fill="#089981"/>
<rect x="1076" y="309" width="1" height="45" fill="#089981"/>
<rect x="1075" y="328" width="3" height="19" fill="#089981"/>
<rect x="1081" y="306" width="1" height="27" fill="#f23645"/>
<rect x="1080" y="328" width="3" height="1" fill="#f23645"/>
<rect x="1086" y="324" width="1" height="33" fill="#f23645"/>
<rect x="1085" y="330" width="3" height="16" fill="#f23645"/>
<rect x="1090" y="313" width="1" height="34" fill="#089981"/>
<rect x="1089" y="327" width="3" height="19" fill="#089981"/>
<rect x="1095" y="317" width="1" height="23" fill="#f23645"/>
<rect x="1094" y="326" width="3" height="8" fill="#f23645"/>
<rect x="1100" y="326" width="1" height="10" fill="#089981"/>
<rect x="1099" y="332" width="3" height="3" fill="#089981"/>
<rect x="1104" y="295" width="1" height="43" fill="#089981"/>
<rect x="1103" y="296" width="3" height="37" fill="#089981"/>
<rect x="1109" y="264" width="1" height="35" fill="#089981"/>
<rect x="1108" y="277" width="3" height="20" fill="#089981"/>
<rect x="1114" y="255" width="1" height="28" fill="#089981"/>
<rect x="1113" y="256" width="3" height="22" fill="#089981"/>
<rect x="1118" y="242" width="1" height="24" fill="#f23645"/>
<rect x="1117" y="256" width="3" height="3" fill="#f23645"/>
<rect x="1123" y="242" width="1" height="19" fill="#089981"/>
<rect x="1122" y="242" width="3" height="16" fill="#089981"/>
<rect x="1128" y="227" width="1" height="25" fill="#089981"/>
<rect x="1127" y="231" width="3" height="12" fill="#089981"/>
<rect x="1132" y="205" width="1" height="85" fill="#f23645"/>
<rect x="1131" y="230" width="3" height="56" fill="#f23645"/>
<rect x="1137" y="278" width="1" height="38" fill="#f23645"/>
<rect x="1136" y="284" width="3" height="23" fill="#f23645"/>
<rect x="1142" y="293" width="1" height="28" fill="#f23645"/>
<rect x="1141" y="306" width="3" height="12" fill="#f23645"/>
<rect x="1146" y="312" width="1" height="25" fill="#f23645"/>
<rect x="1145" y="317" width="3" height="9" fill="#f23645"/>
<rect x="1151" y="320" width="1" height="54" fill="#f23645"/>
<rect x="1150" y="325" width="3" height="45" fill="#f23645"/>
<rect x="1156" y="365" width="1" height="21" fill="#f23645"/>
<rect x="1155" y="371" width="3" height="10" fill="#f23645"/>
<rect x="1160" y="362" width="1" height="26" fill="#f23645"/>
<rect x="1159" y="380" width="3" height="5" fill="#f23645"/>
<rect x="1165" y="326" width="1" height="72" fill="#089981"/>
<rect x="1164" y="327" width="3" height="58" fill="#089981"/>
<rect x="1170" y="301" width="1" height="28" fill="#089981"/>
<rect x="1169" y="303" width="3" height="26" fill="#089981"/>
<rect x="1174" y="297" width="1" height="31" fill="#f23645"/>
<rect x="1173" y="303" width="3" height="21" fill="#f23645"/>
<rect x="1179" y="310" width="1" height="23" fill="#f23645"/>
<rect x="1178" y="321" width="3" height="5" fill="#f23645"/>
<rect x="1183" y="304" width="1" height="23" fill="#089981"/>
<rect x="1182" y="310" width="3" height="16" fill="#089981"/>
<rect x="1188" y="289" width="1" height="27" fill="#089981"/>
<rect x="1187" y="309" width="3" height="2" fill="#089981"/>
<rect x="1193" y="286" width="1" height="24" fill="#089981"/>
<rect x="1192" y="292" width="3" height="18" fill="#089981"/>
<rect x="1197" y="279" width="1" height="30" fill="#f23645"/>
<rect x="1196" y="292" width="3" height="14" fill="#f23645"/>
<rect x="1202" y="303" width="1" height="1" fill="#089981"/>
<rect x="1201" y="303" width="3" height="1" fill="#089981"/>
<rect x="1207" y="290" width="1" height="20" fill="#089981"/>
<rect x="1206" y="299" width="3" height="3" fill="#089981"/>
<rect x="1211" y="288" width="1" height="29" fill="#089981"/>
<rect x="1210" y="298" width="3" height="2" fill="#089981"/>
<rect x="1216" y="286" width="1" height="28" fill="#f23645"/>
<rect x="1215" y="298" width="3" height="16" fill="#f23645"/>
<rect x="1221" y="313" width="1" height="27" fill="#f23645"/>
<rect x="1220" y="313" width="3" height="13" fill="#f23645"/>
<rect x="1225" y="325" width="1" height="1" fill="#089981"/>
<rect x="1224" y="325" width="3" height="1" fill="#089981"/>
<rect x="1230" y="308" width="1" height="26" fill="#f23645"/>
<rect x="1229" y="323" width="3" height="11" fill="#f23645"/>
<rect x="1235" y="329" width="1" height="51" fill="#f23645"/>
<rect x="1234" y="333" width="3" height="37" fill="#f23645"/>
<rect x="1239" y="366" width="1" height="22" fill="#089981"/>
<rect x="1238" y="369" width="3" height="1" fill="#089981"/>
<rect x="1244" y="341" width="1" height="42" fill="#089981"/>
<rect x="1243" y="360" width="3" height="10" fill="#089981"/>
<rect x="1249" y="358" width="1" height="22" fill="#f23645"/>
<rect x="1248" y="360" width="3" height="6" fill="#f23645"/>
<rect x="1253" y="349" width="1" height="27" fill="#f23645"/>
<rect x="1252" y="365" width="3" height="9" fill="#f23645"/>
<rect x="1258" y="364" width="1" height="19" fill="#f23645"/>
<rect x="1257" y="373" width="3" height="5" fill="#f23645"/>
<rect x="1263" y="362" width="1" height="38" fill="#f23645"/>
<rect x="1262" y="378" width="3" height="8" fill="#f23645"/>
<rect x="1267" y="340" width="1" height="46" fill="#089981"/>
<rect x="1266" y="362" width="3" height="24" fill="#089981"/>
<rect x="1272" y="352" width="1" height="12" fill="#089981"/>
<rect x="1271" y="359" width="3" height="1" fill="#089981"/>
<rect x="1277" y="356" width="1" height="23" fill="#f23645"/>
<rect x="1276" y="359" width="3" height="17" fill="#f23645"/>
<rect x="1281" y="373" width="1" height="25" fill="#f23645"/>
<rect x="1280" y="375" width="3" height="21" fill="#f23645"/>
<rect x="1286" y="384" width="1" height="19" fill="#089981"/>
<rect x="1285" y="385" width="3" height="11" fill="#089981"/>
<rect x="1291" y="379" width="1" height="22" fill="#f23645"/>
<rect x="1290" y="385" width="3" height="10" fill="#f23645"/>
<rect x="1295" y="390" width="1" height="41" fill="#f23645"/>
<rect x="1294" y="392" width="3" height="32" fill="#f23645"/>
<rect x="1300" y="401" width="1" height="23" fill="#089981"/>
<rect x="1299" y="402" width="3" height="22" fill="#089981"/>
<rect x="1305" y="373" width="1" height="35" fill="#089981"/>
<rect x="1304" y="390" width="3" height="13" fill="#089981"/>
<rect x="1309" y="369" width="1" height="22" fill="#089981"/>
<rect x="1308" y="376" width="3" height="15" fill="#089981"/>
<rect x="1314" y="371" width="1" height="16" fill="#f23645"/>
<rect x="1313" y="376" width="3" height="6" fill="#f23645"/>
<rect x="1319" y="358" width="1" height="26" fill="#089981"/>
<rect x="1318" y="360" width="3" height="23" fill="#089981"/>
<rect x="1323" y="353" width="1" height="21" fill="#f23645"/>
<rect x="1322" y="360" width="3" height="2" fill="#f23645"/>
<rect x="1328" y="352" width="1" height="31" fill="#f23645"/>
<rect x="1327" y="361" width="3" height="19" fill="#f23645"/>
<rect x="1333" y="356" width="1" height="42" fill="#089981"/>
<rect x="1332" y="360" width="3" height="20" fill="#089981"/>
<rect x="1337" y="356" width="1" height="48" fill="#f23645"/>
<rect x="1336" y="360" width="3" height="30" fill="#f23645"/>
<rect x="1342" y="385" width="1" height="28" fill="#f23645"/>
<rect x="1341" y="388" width="3" height="20" fill="#f23645"/>
<rect x="1347" y="400" width="1" height="12" fill="#089981"/>
<rect x="1346" y="403" width="3" height="5" fill="#089981"/>
<rect x="1351" y="402" width="1" height="14" fill="#f23645"/>
<rect x="1350" y="403" width="3" height="13" fill="#f23645"/>
<rect x="1356" y="391" width="1" height="28" fill="#089981"/>
<rect x="1355" y="394" width="3" height="22" fill="#089981"/>
<rect x="1361" y="386" width="1" height="21" fill="#089981"/>
<rect x="1360" y="393" width="3" height="2" fill="#089981"/>
<rect x="1365" y="366" width="1" height="32" fill="#089981"/>
<rect x="1364" y="388" width="3" height="6" fill="#089981"/>
<rect x="1370" y="374" width="1" height="54" fill="#f23645"/>
<rect x="1369" y="388" width="3" height="36" fill="#f23645"/>
<rect x="1375" y="401" width="1" height="30" fill="#089981"/>
<rect x="1374" y="408" width="3" height="16" fill="#089981"/>
<rect x="1379" y="368" width="1" height="41" fill="#089981"/>
<rect x="1378" y="376" width="3" height="33" fill="#089981"/>
<rect x="1384" y="342" width="1" height="40" fill="#089981"/>
<rect x="1383" y="348" width="3" height="29" fill="#089981"/>
<rect x="1389" y="345" width="1" height="29" fill="#f23645"/>
<rect x="1388" y="347" width="3" height="26" fill="#f23645"/>
<rect x="1393" y="360" width="1" height="15" fill="#089981"/>
<rect x="1392" y="370" width="3" height="3" fill="#089981"/>
<rect x="1398" y="360" width="1" height="24" fill="#f23645"/>
<rect x="1397" y="370" width="3" height="7" fill="#f23645"/>
<rect x="1403" y="361" width="1" height="25" fill="#f23645"/>
<rect x="1402" y="376" width="3" height="10" fill="#f23645"/>
<rect x="1407" y="370" width="1" height="25" fill="#089981"/>
<rect x="1406" y="373" width="3" height="12" fill="#089981"/>
<rect x="1412" y="373" width="1" height="29" fill="#f23645"/>
<rect x="1411" y="373" width="3" height="25" fill="#f23645"/>
<rect x="1417" y="387" width="1" height="16" fill="#f23645"/>
<rect x="1416" y="397" width="3" height="4" fill="#f23645"/>
<rect x="1421" y="398" width="1" height="14" fill="#f23645"/>
<rect x="1420" y="400" width="3" height="2" fill="#f23645"/>
<rect x="1426" y="382" width="1" height="28" fill="#089981"/>
<rect x="1425" y="389" width="3" height="13" fill="#089981"/>
<rect x="1431" y="355" width="1" height="43" fill="#089981"/>
<rect x="1430" y="362" width="3" height="28" fill="#089981"/>
<rect x="1435" y="317" width="1" height="52" fill="#089981"/>
<rect x="1434" y="319" width="3" height="45" fill="#089981"/>
<rect x="1440" y="301" width="1" height="34" fill="#f23645"/>
<rect x="1439" y="319" width="3" height="14" fill="#f23645"/>
<rect x="1445" y="297" width="1" height="41" fill="#089981"/>
<rect x="1444" y="304" width="3" height="29" fill="#089981"/>
<rect x="1449" y="285" width="1" height="28" fill="#089981"/>
<rect x="1448" y="295" width="3" height="10" fill="#089981"/>
<rect x="1454" y="278" width="1" height="26" fill="#f23645"/>
<rect x="1453" y="296" width="3" height="2" fill="#f23645"/>
<rect x="1459" y="284" width="1" height="16" fill="#089981"/>
<rect x="1458" y="287" width="3" height="11" fill="#089981"/>
<rect x="1463" y="275" width="1" height="38" fill="#f23645"/>
<rect x="1462" y="286" width="3" height="19" fill="#f23645"/>
<rect x="1468" y="255" width="1" height="54" fill="#089981"/>
<rect x="1467" y="256" width="3" height="49" fill="#089981"/>
<rect x="1473" y="248" width="1" height="24" fill="#f23645"/>
<rect x="1472" y="256" width="3" height="12" fill="#f23645"/>
<rect x="1477" y="232" width="1" height="36" fill="#089981"/>
<rect x="1476" y="247" width="3" height="21" fill="#089981"/>
<rect x="1482" y="238" width="1" height="22" fill="#f23645"/>
<rect x="1481" y="247" width="3" height="9" fill="#f23645"/>
<rect x="1486" y="248" width="1" height="24" fill="#f23645"/>
<rect x="1485" y="255" width="3" height="8" fill="#f23645"/>
<rect x="1491" y="221" width="1" height="50" fill="#089981"/>
<rect x="1490" y="224" width="3" height="39" fill="#089981"/>
<rect x="1496" y="213" width="1" height="64" fill="#f23645"/>
<rect x="1495" y="224" width="3" height="49" fill="#f23645"/>
<rect x="1500" y="260" width="1" height="31" fill="#f23645"/>
<rect x="1499" y="272" width="3" height="5" fill="#f23645"/>
<rect x="1505" y="263" width="1" height="19" fill="#089981"/>
<rect x="1504" y="276" width="3" height="1" fill="#089981"/>
<rect x="1510" y="263" width="1" height="30" fill="#f23645"/>
<rect x="1509" y="276" width="3" height="13" fill="#f23645"/>
<rect x="1514" y="275" width="1" height="20" fill="#089981"/>
<rect x="1513" y="275" width="3" height="14" fill="#089981"/>
<rect x="1519" y="257" width="1" height="35" fill="#089981"/>
<rect x="1518" y="258" width="3" height="18" fill="#089981"/>
<rect x="1524" y="235" width="1" height="36" fill="#089981"/>
<rect x="1523" y="252" width="3" height="6" fill="#089981"/>
<rect x="1528" y="191" width="1" height="62" fill="#089981"/>
<rect x="1527" y="192" width="3" height="61" fill="#089981"/>
<rect x="1533" y="133" width="1" height="61" fill="#089981"/>
<rect x="1532" y="134" width="3" height="59" fill="#089981"/>
<rect x="1538" y="127" width="1" height="35" fill="#f23645"/>
<rect x="1537" y="134" width="3" height="15" fill="#f23645"/>
<rect x="1542" y="116" width="1" height="68" fill="#089981"/>
<rect x="1541" y="116" width="3" height="33" fill="#089981"/>
<rect x="1547" y="83" width="1" height="67" fill="#089981"/>
<rect x="1546" y="95" width="3" height="22" fill="#089981"/>
<rect x="1552" y="68" width="1" height="33" fill="#089981"/>
<rect x="1551" y="88" width="3" height="8" fill="#089981"/>
</g>
<line x1="10" y1="88.5" x2="1649" y2="88.5" stroke="#089981" stroke-width="1" stroke-dasharray="1 2" shape-rendering="crispEdges"/>
<path d="M9.9,638.0 L12.9,637.8 L17.9,637.3 L22.9,637.3 L26.9,641.4 L31.9,653.8 L36.9,643.5 L40.9,647.8 L45.9,648.3 L50.9,652.7 L54.9,645.5 L59.9,637.8 L64.9,638.0 L68.9,645.0 L73.9,656.3 L78.9,648.9 L82.9,647.6 L87.9,657.9 L92.9,653.8 L96.9,649.1 L101.9,648.9 L106.9,656.9 L110.9,656.9 L115.9,652.2 L120.9,647.1 L124.9,659.4 L129.9,678.5 L134.9,680.0 L138.9,681.1 L143.9,678.0 L148.9,683.1 L152.9,681.4 L157.9,681.9 L162.9,683.6 L166.9,686.7 L171.9,688.3 L176.9,682.2 L180.9,679.9 L185.9,679.2 L190.9,686.7 L194.9,689.6 L199.9,698.0 L204.9,700.4 L208.9,687.7 L213.9,685.1 L218.9,686.4 L222.9,674.0 L227.9,679.0 L232.9,693.8 L236.9,694.5 L241.9,693.1 L246.9,678.0 L250.9,649.2 L255.9,651.5 L260.9,650.1 L264.9,652.0 L269.9,636.5 L273.9,638.1 L278.9,641.9 L283.9,632.9 L287.9,631.0 L292.9,629.3 L297.9,634.0 L301.9,630.1 L306.9,629.8 L311.9,621.9 L315.9,619.8 L320.9,623.4 L325.9,611.9 L329.9,614.7 L334.9,614.1 L339.9,618.1 L343.9,615.7 L348.9,610.9 L353.9,607.9 L357.9,622.8 L362.9,631.7 L367.9,629.4 L371.9,628.2 L376.9,628.2 L381.9,634.2 L385.9,633.0 L390.9,638.1 L395.9,641.5 L399.9,640.7 L404.9,638.0 L409.9,640.4 L413.9,631.6 L418.9,627.3 L423.9,619.5 L427.9,634.1 L432.9,636.4 L437.9,635.4 L441.9,643.7 L446.9,672.7 L451.9,676.7 L455.9,673.0 L460.9,679.0 L465.9,678.6 L469.9,683.1 L474.9,672.4 L479.9,676.8 L483.9,679.9 L488.9,686.2 L493.9,690.8 L497.9,674.0 L502.9,676.4 L507.9,676.0 L511.9,667.4 L516.9,658.0 L521.9,664.3 L525.9,664.9 L530.9,664.1 L535.9,668.1 L539.9,647.6 L544.9,647.2 L549.9,653.7 L553.9,662.2 L558.9,656.1 L563.9,657.2 L567.9,649.7 L572.9,656.6 L576.9,672.2 L581.9,680.1 L586.9,685.6 L590.9,680.7 L595.9,672.1 L600.9,670.4 L604.9,673.3 L609.9,675.5 L614.9,670.0 L618.9,666.2 L623.9,663.8 L628.9,660.2 L632.9,670.0 L637.9,660.0 L642.9,658.6 L646.9,659.0 L651.9,637.7 L656.9,626.9 L660.9,626.3 L665.9,629.2 L670.9,625.7 L674.9,624.8 L679.9,636.7 L684.9,640.6 L688.9,647.7 L693.9,640.8 L698.9,636.5 L702.9,656.1 L707.9,651.4 L712.9,644.2 L716.9,654.3 L721.9,664.6 L726.9,667.4 L730.9,665.5 L735.9,673.6 L740.9,678.7 L744.9,680.2 L749.9,679.0 L754.9,679.5 L758.9,680.9 L763.9,682.3 L768.9,684.2 L772.9,674.8 L777.9,672.5 L782.9,657.2 L786.9,654.7 L791.9,636.7 L796.9,642.2 L800.9,639.7 L805.9,640.0 L810.9,631.5 L814.9,635.0 L819.9,641.2 L824.9,647.5 L828.9,652.2 L833.9,663.1 L838.9,670.4 L842.9,674.6 L847.9,675.3 L852.9,670.2 L856.9,670.6 L861.9,675.9 L866.9,679.3 L870.9,666.6 L875.9,660.8 L879.9,662.5 L884.9,660.5 L889.9,655.7 L893.9,651.7 L898.9,664.2 L903.9,670.6 L907.9,677.5 L912.9,674.6 L917.9,683.3 L921.9,698.9 L926.9,694.6 L931.9,696.4 L935.9,696.9 L940.9,677.6 L945.9,670.3 L949.9,671.3 L954.9,665.9 L959.9,670.4 L963.9,650.1 L968.9,653.1 L973.9,649.1 L977.9,648.0 L982.9,643.6 L987.9,638.4 L991.9,648.9 L996.9,650.1 L1001.9,651.5 L1005.9,653.3 L1010.9,646.3 L1015.9,641.1 L1019.9,653.6 L1024.9,652.0 L1029.9,657.1 L1033.9,646.0 L1038.9,651.6 L1043.9,661.3 L1047.9,662.9 L1052.9,661.1 L1057.9,670.1 L1061.9,667.3 L1066.9,647.8 L1071.9,641.9 L1075.9,636.3 L1080.9,636.8 L1085.9,645.0 L1089.9,638.8 L1094.9,642.5 L1099.9,641.7 L1103.9,630.3 L1108.9,625.5 L1113.9,620.7 L1117.9,622.4 L1122.9,618.5 L1127.9,616.2 L1131.9,643.3 L1136.9,651.4 L1141.9,655.4 L1145.9,658.2 L1150.9,671.9 L1155.9,674.9 L1159.9,676.0 L1164.9,654.9 L1169.9,648.1 L1173.9,654.9 L1178.9,655.5 L1182.9,650.6 L1187.9,650.3 L1192.9,644.9 L1196.9,650.4 L1201.9,649.5 L1206.9,648.0 L1210.9,647.8 L1215.9,654.9 L1220.9,660.0 L1224.9,659.6 L1229.9,663.5 L1234.9,677.0 L1238.9,676.5 L1243.9,671.6 L1248.9,673.8 L1252.9,676.8 L1257.9,678.4 L1262.9,681.4 L1266.9,666.7 L1271.9,664.9 L1276.9,672.5 L1280.9,680.1 L1285.9,673.6 L1290.9,677.3 L1294.9,686.9 L1299.9,674.4 L1304.9,668.3 L1308.9,661.6 L1313.9,664.0 L1318.9,653.9 L1322.9,654.8 L1327.9,663.0 L1332.9,653.9 L1336.9,666.1 L1341.9,672.3 L1346.9,670.0 L1350.9,674.4 L1355.9,663.9 L1360.9,663.5 L1364.9,661.0 L1369.9,674.6 L1374.9,667.0 L1378.9,653.9 L1383.9,644.3 L1388.9,654.1 L1392.9,653.1 L1397.9,655.8 L1402.9,659.3 L1406.9,654.1 L1411.9,663.7 L1416.9,664.9 L1420.9,665.3 L1425.9,659.2 L1430.9,648.1 L1434.9,634.5 L1439.9,640.8 L1444.9,632.8 L1448.9,630.7 L1453.9,632.1 L1458.9,629.1 L1462.9,638.2 L1467.9,625.7 L1472.9,631.2 L1476.9,626.4 L1481.9,630.6 L1485.9,634.0 L1490.9,624.6 L1495.9,644.6 L1499.9,646.0 L1504.9,645.7 L1509.9,650.6 L1513.9,646.1 L1518.9,641.0 L1523.9,639.2 L1527.9,624.7 L1532.9,615.1 L1537.9,621.1 L1541.9,616.0 L1546.9,613.0 L1551.9,611.8" fill="none" stroke="#7e57c2" stroke-width="2" stroke-linejoin="round" stroke-linecap="round" clip-path="url(#cr)"/>
<text x="1657" y="546.1" font-size="13" fill="#131722" text-anchor="start" textLength="31.8" lengthAdjust="spacingAndGlyphs">20.00</text>
<text x="1657" y="489.3" font-size="13" fill="#131722" text-anchor="start" textLength="31.8" lengthAdjust="spacingAndGlyphs">21.00</text>
<text x="1657" y="432.6" font-size="13" fill="#131722" text-anchor="start" textLength="31.8" lengthAdjust="spacingAndGlyphs">22.00</text>
<text x="1657" y="375.8" font-size="13" fill="#131722" text-anchor="start" textLength="31.8" lengthAdjust="spacingAndGlyphs">23.00</text>
<text x="1657" y="262.2" font-size="13" fill="#131722" text-anchor="start" textLength="31.8" lengthAdjust="spacingAndGlyphs">25.00</text>
<text x="1657" y="205.4" font-size="13" fill="#131722" text-anchor="start" textLength="31.8" lengthAdjust="spacingAndGlyphs">26.00</text>
<text x="1657" y="148.7" font-size="13" fill="#131722" text-anchor="start" textLength="31.8" lengthAdjust="spacingAndGlyphs">27.00</text>
<text x="1657" y="35.1" font-size="13" fill="#131722" text-anchor="start" textLength="31.8" lengthAdjust="spacingAndGlyphs">29.00</text>
<g clip-path="url(#cr2)">
<text x="1657" y="711.6" font-size="13" fill="#131722" text-anchor="start" textLength="31.8" lengthAdjust="spacingAndGlyphs">20.00</text>
</g>
<text x="1657" y="678.2" font-size="13" fill="#131722" text-anchor="start" textLength="31.8" lengthAdjust="spacingAndGlyphs">40.00</text>
<text x="1657" y="644.9" font-size="13" fill="#131722" text-anchor="start" textLength="31.8" lengthAdjust="spacingAndGlyphs">60.00</text>
<path d="M1649,79 h43.5 a2,2 0 0 1 2,2 v15 a2,2 0 0 1 -2,2 h-43.5 z" fill="#089981"/>
<text x="1658" y="93.1" font-size="13" fill="#fff" text-anchor="start" textLength="31.6" lengthAdjust="spacingAndGlyphs" stroke="#fff" stroke-width="0.3">27.99</text>
<path d="M1649,303 h43.5 a2,2 0 0 1 2,2 v14 a2,2 0 0 1 -2,2 h-43.5 z" fill="#ff6d00"/>
<text x="1658" y="316.6" font-size="13" fill="#fff" text-anchor="start" textLength="31.6" lengthAdjust="spacingAndGlyphs" stroke="#fff" stroke-width="0.3">24.04</text>
<path d="M1649,321 h43.5 a2,2 0 0 1 2,2 v13.5 a2,2 0 0 1 -2,2 h-43.5 z" fill="#2196f3"/>
<text x="1658" y="334.4" font-size="13" fill="#fff" text-anchor="start" textLength="31.6" lengthAdjust="spacingAndGlyphs" stroke="#fff" stroke-width="0.3">23.82</text>
<path d="M1649,338.5 h43.5 a2,2 0 0 1 2,2 v14.5 a2,2 0 0 1 -2,2 h-43.5 z" fill="#26c6da"/>
<text x="1658" y="352.4" font-size="13" fill="#131722" text-anchor="start" textLength="31.6" lengthAdjust="spacingAndGlyphs" stroke="#131722" stroke-width="0.3">23.52</text>
<path d="M1649,602 h43.5 a2,2 0 0 1 2,2 v15 a2,2 0 0 1 -2,2 h-43.5 z" fill="#7e57c2"/>
<text x="1658" y="616.1" font-size="13" fill="#fff" text-anchor="start" textLength="31.6" lengthAdjust="spacingAndGlyphs" stroke="#fff" stroke-width="0.3">77.05</text>
<g clip-path="url(#ct)">
<text x="4.3" y="729.8" font-size="13" fill="#131722" text-anchor="start" textLength="28.4" lengthAdjust="spacingAndGlyphs">2023</text>
<text x="111.1" y="729.8" font-size="13" fill="#131722" text-anchor="start" textLength="20.8" lengthAdjust="spacingAndGlyphs">Feb</text>
<text x="204.1" y="729.8" font-size="13" fill="#131722" text-anchor="start" textLength="20.8" lengthAdjust="spacingAndGlyphs">Mar</text>
<text x="312.6" y="729.8" font-size="13" fill="#131722" text-anchor="start" textLength="17.8" lengthAdjust="spacingAndGlyphs">Apr</text>
<text x="399.1" y="729.8" font-size="13" fill="#131722" text-anchor="start" textLength="22.9" lengthAdjust="spacingAndGlyphs">May</text>
<text x="507.4" y="729.8" font-size="13" fill="#131722" text-anchor="start" textLength="20.1" lengthAdjust="spacingAndGlyphs">Jun</text>
<text x="611.4" y="729.8" font-size="13" fill="#131722" text-anchor="start" textLength="16.2" lengthAdjust="spacingAndGlyphs">Jul</text>
<text x="707.1" y="729.8" font-size="13" fill="#131722" text-anchor="start" textLength="20.8" lengthAdjust="spacingAndGlyphs">Aug</text>
<text x="815.1" y="729.8" font-size="13" fill="#131722" text-anchor="start" textLength="20.8" lengthAdjust="spacingAndGlyphs">Sep</text>
<text x="912.2" y="729.8" font-size="13" fill="#131722" text-anchor="start" textLength="20.6" lengthAdjust="spacingAndGlyphs">Oct</text>
<text x="1014.9" y="729.8" font-size="13" fill="#131722" text-anchor="start" textLength="21.3" lengthAdjust="spacingAndGlyphs">Nov</text>
<text x="1118.1" y="729.8" font-size="13" fill="#131722" text-anchor="start" textLength="20.8" lengthAdjust="spacingAndGlyphs">Dec</text>
<text x="1211.0" y="729.8" font-size="13" fill="#131722" text-anchor="start" textLength="29" lengthAdjust="spacingAndGlyphs" stroke="#131722" stroke-width="0.25">2024</text>
<text x="1323.1" y="729.8" font-size="13" fill="#131722" text-anchor="start" textLength="20.8" lengthAdjust="spacingAndGlyphs">Feb</text>
<text x="1421.1" y="729.8" font-size="13" fill="#131722" text-anchor="start" textLength="20.8" lengthAdjust="spacingAndGlyphs">Mar</text>
<text x="1515.6" y="729.8" font-size="13" fill="#131722" text-anchor="start" textLength="17.8" lengthAdjust="spacingAndGlyphs">Apr</text>
<text x="1615.0" y="729.8" font-size="13" fill="#131722" text-anchor="start" textLength="22.9" lengthAdjust="spacingAndGlyphs">May</text>
</g>
<text x="18.2" y="29.8" font-size="13" fill="#131722" text-anchor="start" textLength="241.8" lengthAdjust="spacingAndGlyphs">Silver US Dollars per Ounce Spot Prices, 1D</text>
<text x="268" y="29.8" font-size="13" fill="#131722" text-anchor="start" textLength="8.5" lengthAdjust="spacingAndGlyphs">O</text>
<text x="276.5" y="29.8" font-size="13" fill="#089981" text-anchor="start" textLength="30" lengthAdjust="spacingAndGlyphs">27.85</text>
<text x="315.2" y="29.8" font-size="13" fill="#131722" text-anchor="start" textLength="8.3" lengthAdjust="spacingAndGlyphs">H</text>
<text x="323.5" y="29.8" font-size="13" fill="#089981" text-anchor="start" textLength="30.3" lengthAdjust="spacingAndGlyphs">28.33</text>
<text x="362.5" y="29.8" font-size="13" fill="#131722" text-anchor="start" textLength="6" lengthAdjust="spacingAndGlyphs">L</text>
<text x="368.5" y="29.8" font-size="13" fill="#089981" text-anchor="start" textLength="29.7" lengthAdjust="spacingAndGlyphs">27.75</text>
<text x="407" y="29.8" font-size="13" fill="#131722" text-anchor="start" textLength="8" lengthAdjust="spacingAndGlyphs">C</text>
<text x="415" y="29.8" font-size="13" fill="#089981" text-anchor="start" textLength="30.5" lengthAdjust="spacingAndGlyphs">27.99</text>
<text x="452.9" y="29.8" font-size="13" fill="#089981" text-anchor="start" textLength="82.3" lengthAdjust="spacingAndGlyphs">+0.13 (+0.47%)</text>
<text x="18.2" y="48.1" font-size="13" fill="#131722" text-anchor="start" textLength="250.8" lengthAdjust="spacingAndGlyphs">Moving Average Triple (50, 100, 200, Simple)</text>
<text x="277.4" y="48.1" font-size="13" fill="#ff6d00" text-anchor="start" textLength="31.2" lengthAdjust="spacingAndGlyphs">24.04</text>
<text x="316" y="48.1" font-size="13" fill="#2196f3" text-anchor="start" textLength="30.8" lengthAdjust="spacingAndGlyphs">23.82</text>
<text x="354.5" y="48.1" font-size="13" fill="#26c6da" text-anchor="start" textLength="30.8" lengthAdjust="spacingAndGlyphs">23.52</text>
<text x="18.3" y="614.7" font-size="13" fill="#131722" text-anchor="start" textLength="42.5" lengthAdjust="spacingAndGlyphs">RSI (14)</text>
<text x="69.7" y="614.7" font-size="13" fill="#7e57c2" text-anchor="start" textLength="29.9" lengthAdjust="spacingAndGlyphs">77.05</text>
<g fill="#131722"><path d="M10.1,753 H18 V763.4 H14.1 V756.9 H10.1 Z"/><circle cx="21.55" cy="755.4" r="2.15"/><path d="M26.3,753 H30.5 L26.4,763.4 H22 Z"/></g>
<text x="34.2" y="763.5" font-size="13" fill="#1e222d" text-anchor="start" textLength="73.8" lengthAdjust="spacingAndGlyphs">TradingView</text>
</svg>
</body></html>
